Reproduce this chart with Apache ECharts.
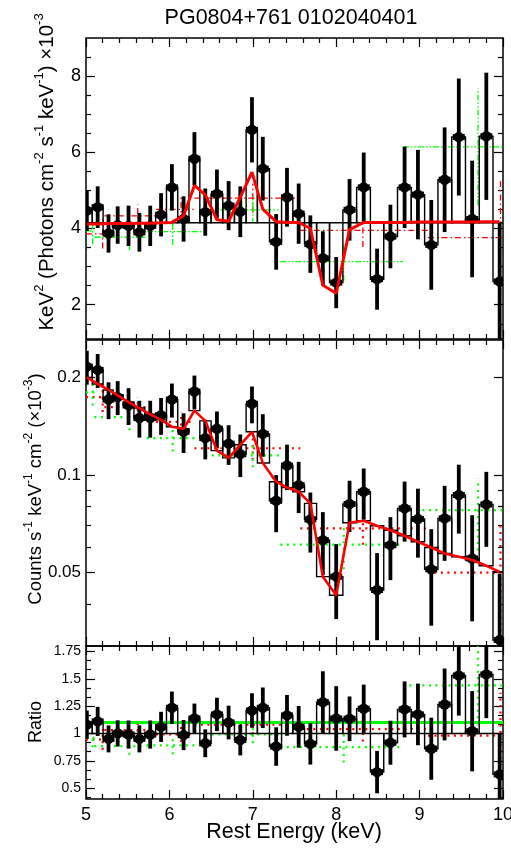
<!DOCTYPE html>
<html>
<head>
<meta charset="utf-8">
<script src="https://cdn.jsdelivr.net/npm/echarts@6/dist/echarts.min.js"></script>
<style>
  html, body { margin: 0; padding: 0; background: #fff; }
  #chart { width: 511px; height: 866px; }
</style>
</head>
<body>
<div id="chart"></div>
<script>
// black spectrum: bin centres (keV)
const energy = [5.01, 5.14, 5.27, 5.38, 5.51, 5.64, 5.77, 5.90, 6.03, 6.17, 6.30, 6.43, 6.57, 6.71, 6.85, 6.99,
  7.12, 7.28, 7.41, 7.55, 7.69, 7.84, 8.00, 8.16, 8.33, 8.49, 8.65, 8.82, 8.98, 9.14, 9.30, 9.47, 9.63, 9.80, 9.96]
// top panel, keV^2 (photons cm-2 s-1 keV-1) x1e-3
const fluxData = [4.47, 4.56, 3.87, 4.09, 4.07, 3.90, 4.07, 4.36, 5.08, 4.25, 5.83, 4.43, 4.91, 4.60, 4.44, 6.59,
  5.57, 3.65, 4.82, 4.39, 3.59, 3.22, 2.58, 4.49, 5.08, 2.67, 3.79, 5.08, 4.89, 3.57, 5.28, 6.40, 4.25, 6.42, 2.61]
const fluxModel = [4.12, 4.12, 4.13, 4.13, 4.13, 4.14, 4.14, 4.15, 4.16, 4.34, 5.13, 4.88, 4.23, 4.19, 4.82, 5.48,
  4.51, 4.18, 4.16, 4.16, 4.00, 2.51, 2.30, 3.97, 4.16, 4.16, 4.16, 4.16, 4.17, 4.17, 4.17, 4.17, 4.17, 4.18, 4.18]
const fluxContinuum = 4.15
// middle panel, counts s-1 keV-1 cm-2
const countsData = [0.216, 0.211, 0.171, 0.174, 0.164, 0.150, 0.150, 0.153, 0.171, 0.136, 0.181, 0.130, 0.139, 0.125, 0.116, 0.166,
  0.134, 0.0833, 0.107, 0.0931, 0.073, 0.063, 0.0486, 0.0814, 0.0888, 0.0442, 0.0608, 0.0789, 0.0732, 0.0512, 0.0735, 0.0868, 0.0553, 0.0812, 0.031]
const countsModel = [0.200, 0.191, 0.183, 0.176, 0.168, 0.161, 0.154, 0.148, 0.141, 0.139, 0.158, 0.147, 0.119, 0.113, 0.124, 0.136,
  0.109, 0.0954, 0.0915, 0.0888, 0.0818, 0.0486, 0.0426, 0.0713, 0.0723, 0.0698, 0.0676, 0.0650, 0.0623, 0.0598, 0.0573, 0.0560, 0.0547, 0.0525, 0.0503]
// bottom panel
const ratioData = [1.08, 1.11, 0.95, 1.00, 0.99, 0.95, 0.99, 1.06, 1.235, 0.985, 1.137, 0.91, 1.174, 1.10, 0.94, 1.21,
  1.235, 0.88, 1.165, 1.06, 0.905, 1.286, 1.137, 1.134, 1.226, 0.646, 0.915, 1.22, 1.174, 0.86, 1.265, 1.53, 1.02, 1.54, 0.625]
const ratioBase = 1.0
const ratioFit = 1.1
// fractional 1-sigma error of each black bin
const relErr = [0.12, 0.12, 0.13, 0.12, 0.13, 0.13, 0.13, 0.13, 0.12, 0.14, 0.12, 0.14, 0.13, 0.14, 0.15, 0.13,
  0.15, 0.2, 0.16, 0.18, 0.21, 0.22, 0.26, 0.18, 0.18, 0.3, 0.22, 0.21, 0.24, 0.33, 0.26, 0.24, 0.36, 0.26, 0.6]

// coarse red spectrum
const redLo = [5.00, 5.22, 5.84, 6.30, 7.57, 9.10]
const redHi = [5.22, 5.84, 6.30, 7.57, 9.10, 10.0]
const redMid = [5.20, 5.62, 6.14, 7.00, 8.32, 9.97]
const redFlux = [3.86, 4.33, 4.50, 4.80, 3.95, 3.76]
const redCounts = [0.174, 0.162, 0.146, 0.121, 0.0685, 0.050]
const redRatio = [0.945, 1.03, 0.99, 1.08, 1.04, 0.98]
const redErr = [0.1, 0.07, 0.07, 0.08, 0.11, 0.4]
// coarse green spectrum
const greenLo = [5.00, 5.10, 5.73, 6.43, 7.33, 8.80]
const greenHi = [5.10, 5.73, 6.43, 7.33, 8.80, 10.0]
const greenMid = [5.08, 5.52, 6.04, 7.00, 8.09, 9.70]
const greenFlux = [3.94, 3.77, 3.92, 4.49, 3.13, 6.14]
const greenCounts = [0.180, 0.151, 0.130, 0.115, 0.061, 0.078]
const greenRatio = [0.96, 0.884, 0.89, 0.99, 0.875, 1.44]
const greenErr = [0.09, 0.09, 0.09, 0.08, 0.16, 0.25]

// axes
const xMin = 5, xMax = 10
const xTickLabels = [5, 6, 7, 8, 9, 10]
const fluxRange = [1.1, 9]
const fluxTicks = [2, 4, 6, 8]
const fluxMinor = [1.5, 2.5, 3, 3.5, 4.5, 5, 5.5, 6.5, 7, 7.5, 8.5]
const countsRange = [0.0297, 0.261]
const countsTicks = [0.05, 0.1, 0.2]
const countsMinor = [0.04, 0.06, 0.07, 0.08, 0.09]
const ratioRange = [0.4, 1.8]
const ratioTicks = [0.5, 0.75, 1, 1.25, 1.5, 1.75]
const ratioMinor = [0.4167, 0.5833, 0.6667, 0.8333, 0.9167, 1.0833, 1.1667, 1.3333, 1.4167, 1.5833, 1.6667]

const FONT = 'Liberation Sans, Arial, Helvetica, sans-serif'
const RED = '#ff0000'
const GREEN = '#00ff00'
const lg = Math.log10

// bin edges from the centres
const binLo = energy.map((e, i) => i === 0 ? e - (energy[1] - e) / 2 : (energy[i - 1] + e) / 2)
const binHi = energy.map((e, i) => i === energy.length - 1 ? e + (e - energy[i - 1]) / 2 : (energy[i + 1] + e) / 2)

function blackRows(vals, bases, tf) {
  return energy.map((e, i) => {
    const v = vals[i], b = Array.isArray(bases) ? bases[i] : bases
    return [binLo[i], binHi[i], e, tf(v), tf(b), tf(v * (1 - relErr[i])), tf(v * (1 + relErr[i]))]
  })
}

function coarseRows(lo, hi, mid, vals, err, tf) {
  return vals.map((v, i) => [lo[i], hi[i], mid[i], tf(v), tf(v * (1 - err[i])), tf(v * (1 + err[i]))])
}

const same = v => v

function renderBins(params, api) {
  const a = api.coord([api.value(0), api.value(3)])
  const b = api.coord([api.value(1), api.value(4)])
  const e1 = api.coord([api.value(2), api.value(5)])
  const e2 = api.coord([api.value(2), api.value(6)])
  const c = api.coord([api.value(2), api.value(3)])
  return {
    type: 'group',
    children: [
      {
        type: 'rect',
        shape: { x: a[0], y: Math.min(a[1], b[1]), width: b[0] - a[0], height: Math.abs(b[1] - a[1]) },
        style: { fill: 'none', stroke: '#000', lineWidth: 1.4 }
      },
      { type: 'line', shape: { x1: e1[0], y1: e1[1], x2: e2[0], y2: e2[1] }, style: { stroke: '#000', lineWidth: 3.8 } },
      { type: 'rect', shape: { x: c[0] - 6, y: c[1] - 3, width: 12, height: 6 }, style: { fill: '#000' } },
      { type: 'circle', shape: { cx: c[0], cy: c[1], r: 5.2 }, style: { fill: '#000' } }
    ]
  }
}

function crossRenderer(color, dash, width) {
  return function (params, api) {
    const a = api.coord([api.value(0), api.value(3)])
    const b = api.coord([api.value(1), api.value(3)])
    const e1 = api.coord([api.value(2), api.value(4)])
    const e2 = api.coord([api.value(2), api.value(5)])
    return {
      type: 'group',
      children: [
        { type: 'line', shape: { x1: a[0], y1: a[1], x2: b[0], y2: b[1] }, style: { stroke: color, lineWidth: width, lineDash: dash } },
        { type: 'line', shape: { x1: e1[0], y1: e1[1], x2: e2[0], y2: e2[1] }, style: { stroke: color, lineWidth: width, lineDash: dash } }
      ]
    }
  }
}

function xAxes(gi, withLabels) {
  const base = {
    gridIndex: gi, type: 'value', min: xMin, max: xMax, interval: 1,
    axisLine: { show: false },
    splitLine: { show: false },
    axisTick: { show: true, inside: true, length: 9, lineStyle: { color: '#000', width: 1.2 } },
    minorTick: { show: true, splitNumber: 5, length: 5, lineStyle: { color: '#000', width: 1.2 } },
  }
  return [
    {
      ...base, position: 'bottom',
      axisLabel: {
        show: withLabels, customValues: xTickLabels, color: '#000', fontSize: 18, fontFamily: FONT, margin: 7,
        showMinLabel: true, showMaxLabel: true, hideOverlap: false
      }
    },
    { ...base, position: 'top', axisLabel: { show: false } },
  ]
}

function yAxes(gi, range, major, minor, fmt, fontSize) {
  const base = {
    gridIndex: gi, type: 'value', min: range[0], max: range[1],
    axisLine: { show: false }, splitLine: { show: false },
  }
  const tick = (vals, len) => ({ show: true, inside: true, length: len, customValues: vals, lineStyle: { color: '#000', width: 1.2 } })
  return [
    {
      ...base, position: 'left', axisTick: tick(major, 9),
      axisLabel: { customValues: major, formatter: fmt, color: '#000', fontSize: fontSize, fontFamily: FONT, margin: 5, hideOverlap: false }
    },
    { ...base, position: 'left', axisTick: tick(minor, 5), axisLabel: { show: false } },
    { ...base, position: 'right', axisTick: tick(major, 9), axisLabel: { show: false } },
    { ...base, position: 'right', axisTick: tick(minor, 5), axisLabel: { show: false } },
  ]
}

const grids = [
  { left: 86, right: 8, top: 38, height: 301 },
  { left: 86, right: 8, top: 340, height: 306 },
  { left: 86, right: 8, top: 646, height: 153 },
].map(g => ({ ...g, show: true, borderColor: '#000', borderWidth: 1.5, backgroundColor: 'transparent', containLabel: false, outerBoundsMode: 'none' }))

const xAxis = [...xAxes(0, false), ...xAxes(1, false), ...xAxes(2, true)]
const yAxis = [
  ...yAxes(0, fluxRange, fluxTicks, fluxMinor, v => String(v), 18),
  ...yAxes(1, countsRange.map(lg), countsTicks.map(lg), countsMinor.map(lg), v => String(+Math.pow(10, v).toFixed(2)), 17),
  ...yAxes(2, ratioRange, ratioTicks, ratioMinor, v => String(v), 14),
]

function panelSeries(gi, tf, data, model, bases, rFlux, gFlux, dashes) {
  const xi = gi * 2, yi = gi * 4
  const list = [
    {
      type: 'custom', xAxisIndex: xi, yAxisIndex: yi, clip: true, z: 2,
      renderItem: crossRenderer(RED, dashes.red, dashes.width),
      data: coarseRows(redLo, redHi, redMid, rFlux, redErr, tf)
    },
    {
      type: 'custom', xAxisIndex: xi, yAxisIndex: yi, clip: true, z: 2,
      renderItem: crossRenderer(GREEN, dashes.green, dashes.width),
      data: coarseRows(greenLo, greenHi, greenMid, gFlux, greenErr, tf)
    },
  ]
  if (gi === 2) {
    list.push({
      type: 'line', xAxisIndex: xi, yAxisIndex: yi, z: 3, symbol: 'none', silent: true,
      lineStyle: { color: GREEN, width: 3 },
      data: [[xMin, ratioFit], [xMax, ratioFit]]
    })
  }
  list.push({
    type: 'custom', xAxisIndex: xi, yAxisIndex: yi, clip: true, z: 4,
    renderItem: renderBins,
    data: blackRows(data, bases, tf)
  })
  if (model) {
    list.push({
      type: 'line', xAxisIndex: xi, yAxisIndex: yi, z: 5, symbol: 'none', silent: true,
      lineStyle: { color: RED, width: gi === 0 ? 3 : 2.6 },
      data: energy.map((e, i) => [e, tf(model[i])])
    })
  }
  return list
}

const series = [
  ...panelSeries(0, same, fluxData, fluxModel, fluxContinuum, redFlux, greenFlux,
    { red: [6, 3, 1.5, 3], green: [6, 2, 1.5, 2, 1.5, 2], width: 1.3 }),
  ...panelSeries(1, lg, countsData, countsModel, countsModel, redCounts, greenCounts,
    { red: [2, 4.5], green: [2, 4.5], width: 2.2 }),
  ...panelSeries(2, same, ratioData, null, ratioBase, redRatio, greenRatio,
    { red: [2, 4.5], green: [2, 4.5], width: 2.2 }),
]

function label(x, y, text, size, supSize, rotate) {
  return {
    type: 'text', x: x, y: y, rotation: rotate ? Math.PI / 2 : 0, silent: true,
    style: {
      text: text, fill: '#000', fontSize: size, fontFamily: FONT, lineHeight: Math.round(size * 1.38),
      align: 'center', verticalAlign: 'middle', textAlign: 'center', textVerticalAlign: 'middle',
      rich: { s: { fontSize: supSize, fontFamily: FONT, fill: '#000', lineHeight: supSize, verticalAlign: 'top' } }
    }
  }
}

const chart = echarts.init(document.getElementById('chart'), null, { renderer: 'canvas' })
chart.setOption({
  animation: false,
  backgroundColor: '#fff',
  grid: grids,
  xAxis: xAxis,
  yAxis: yAxis,
  series: series,
  graphic: [
    label(291, 18, 'PG0804+761 0102040401', 21.5, 14, false),
    label(47, 172, 'KeV{s|2} (Photons cm{s|-2} s{s|-1} keV{s|-1}) ×10{s|-3}', 20.5, 13, true),
    label(36, 489, 'Counts s{s|-1} keV{s|-1} cm{s|-2} (×10{s|-3})', 18.5, 12, true),
    label(36, 722, 'Ratio', 18, 12, true),
    label(294, 832, 'Rest Energy (keV)', 21.5, 14, false),
  ]
})
</script>
</body>
</html>
